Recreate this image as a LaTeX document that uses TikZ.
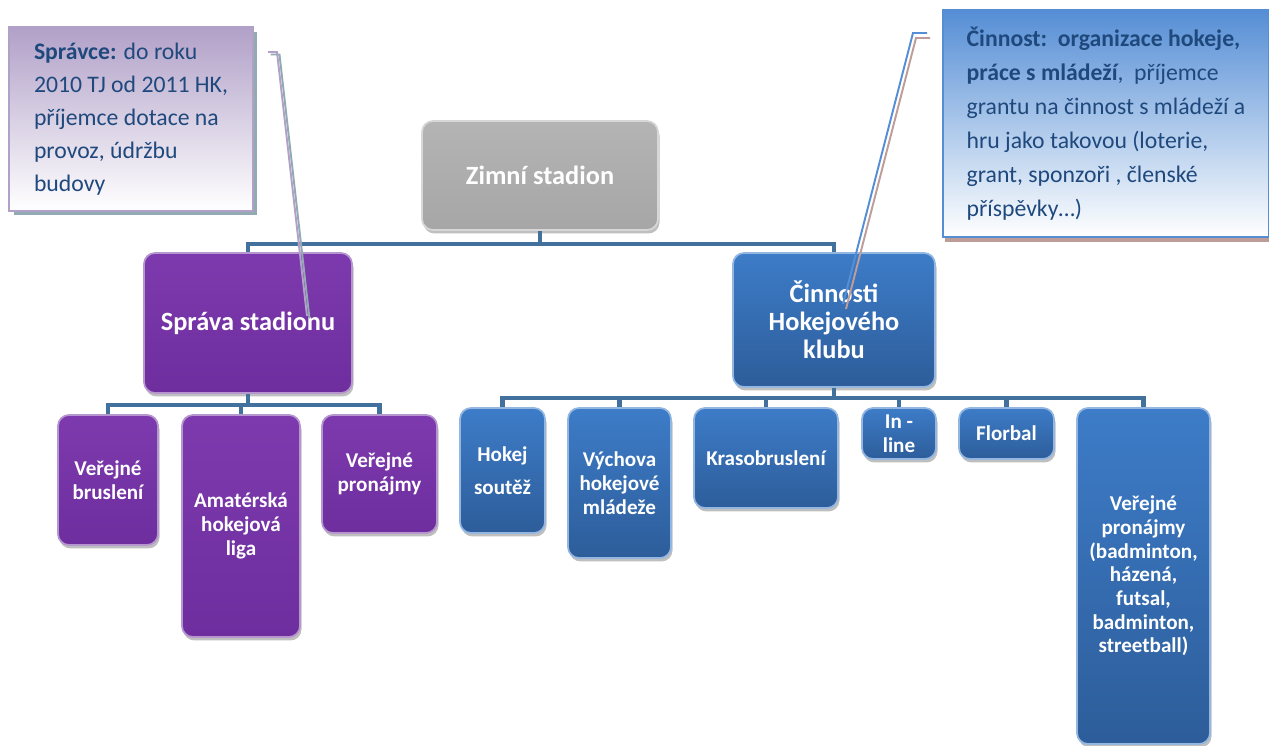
\documentclass[tikz,border=0pt]{standalone}
\usepackage{fontspec}
\setmainfont{Carlito}
\usetikzlibrary{shadows}
\definecolor{zimgray}{HTML}{A6A6A6}
\definecolor{zimgraylight}{HTML}{B4B4B4}
\definecolor{sprpurple}{HTML}{6E2E9E}
\definecolor{sprpurplelight}{HTML}{7D3AAE}
\definecolor{hkblue}{HTML}{3D7CC8}
\definecolor{hkbluedark}{HTML}{2D5D9A}
\definecolor{linkblue}{HTML}{41719C}
\definecolor{notetext}{HTML}{1F497D}
\definecolor{notepurple}{HTML}{B1A0C8}
\definecolor{noteteal}{HTML}{92AAB2}
\definecolor{noteblue}{HTML}{558ED5}
\definecolor{notebrown}{HTML}{BE9C97}
\begin{document}
\begin{tikzpicture}[x=0.02cm, y=-0.02cm,
		box/.style 2 args={rounded corners=0.22cm, minimum width=#1*0.02cm, minimum height=#2*0.02cm,
			inner sep=1pt, align=center, text=white, line width=1pt,
			font=\bfseries\fontsize{12}{13.5}\selectfont,
			drop shadow={shadow xshift=0.03cm, shadow yshift=-0.07cm, fill=black, opacity=0.25}},
		bigtext/.style={font=\bfseries\fontsize{15}{16}\selectfont},
		graybox/.style={top color=zimgraylight, bottom color=zimgray, draw=zimgray!45!white},
		purplebox/.style={top color=sprpurplelight, bottom color=sprpurple, draw=sprpurple!50!white},
		bluebox/.style={top color=hkblue, bottom color=hkbluedark, draw=hkblue!55!white},
		link/.style={draw=linkblue, line width=2.3pt},
		note/.style={draw, line width=0.8pt, align=left, inner xsep=2pt, inner ysep=2pt,
			text=notetext, font=\fontsize{13.5}{18.8}\selectfont, bottom color=white},
		leader/.style={line width=1.1pt}]
	\useasboundingbox (0,0) rectangle (1269,746);
	% Nodes
	\node[box={236}{109}, graybox, bigtext] (zimni) at (540,175.5) {Zimní stadion};
	\node[box={208}{140}, purplebox, bigtext] (sprava) at (248,323) {Správa stadionu};
	\node[box={202}{134}, bluebox, bigtext] (cinnosti) at (834,320) {Činnosti\\Hokejového\\klubu};
	\node[box={100}{130}, purplebox] (brusleni) at (108,480) {Veřejné\\bruslení};
	\node[box={118}{222}, purplebox] (amaterska) at (241,526) {Amatérská\\hokejová\\liga};
	\node[box={115}{118}, purplebox] (pronajmyL) at (379.5,474) {Veřejné\\pronájmy};
	\node[box={85}{125}, bluebox] (hokej) at (502.5,470.5) {Hokej\\[5pt]soutěž};
	\node[box={103}{150}, bluebox] (vychova) at (619.5,483) {Výchova\\hokejové\\mládeže};
	\node[box={144}{100}, bluebox] (kraso) at (766,458) {Krasobruslení};
	\node[box={74}{51}, bluebox] (inline) at (899,433.5) {In -\\line};
	\node[box={95}{51}, bluebox] (florbal) at (1006.5,433.5) {Florbal};
	\node[box={133}{336}, bluebox] (pronajmyR) at (1143.5,576) {Veřejné\\pronájmy\\(badminton,\\házená,\\futsal,\\badminton,\\streetball)};
	% Notes
	\node[note, top color=notepurple, draw=notepurple, minimum width=4.88cm, minimum height=3.68cm,
		drop shadow={shadow xshift=0.09cm, shadow yshift=-0.09cm, fill=noteteal, opacity=1}]
		(spravce) at (131,119) {\textbf{Správce:} do roku\\2010 TJ od 2011 HK,\\příjemce dotace na\\provoz, údržbu\\budovy};
	\node[note, top color=noteblue, draw=noteblue, minimum width=6.52cm, minimum height=4.54cm,
		font=\fontsize{13.5}{19.3}\selectfont,
		drop shadow={shadow xshift=0.04cm, shadow yshift=-0.1cm, fill=notebrown, opacity=1}]
		(cinnost) at (1106,123.5) {\textbf{Činnost:\ \ organizace hokeje,}\\\textbf{práce s mládeží},\ \ příjemce\\grantu na činnost s mládeží a\\hru jako takovou (loterie,\\grant, sponzoři , členské\\příspěvky…)};
	\coordinate (spravce start) at (268,52);
	\coordinate (spravce tip) at (307,316);
	\coordinate (cinnost start) at (927,33);
	\coordinate (cinnost tip) at (843,304);
	% Connectors
	\draw[link] (zimni.south) -- ++(0,13) -| (sprava.north);
	\draw[link] (zimni.south) -- ++(0,13) -| (cinnosti.north);
	\foreach \child in {brusleni,amaterska,pronajmyL}
		\draw[link] (sprava.south) -- ++(0,11) -| (\child.north);
	\foreach \child in {hokej,vychova,kraso,inline,florbal,pronajmyR}
		\draw[link] (cinnosti.south) -- ++(0,10) -| (\child.north);
	% Leaders
	\draw[leader, noteteal, transform canvas={xshift=0.05cm, yshift=-0.05cm}] (spravce start) -- ++(9,0) -- (spravce tip);
	\draw[leader, notepurple] (spravce start) -- ++(9,0) -- (spravce tip);
	\draw[leader, notebrown, transform canvas={xshift=0.06cm, yshift=-0.1cm}] (cinnost start) -- ++(-14,0) -- (cinnost tip);
	\draw[leader, noteblue] (cinnost start) -- ++(-14,0) -- (cinnost tip);
\end{tikzpicture}
\end{document}
